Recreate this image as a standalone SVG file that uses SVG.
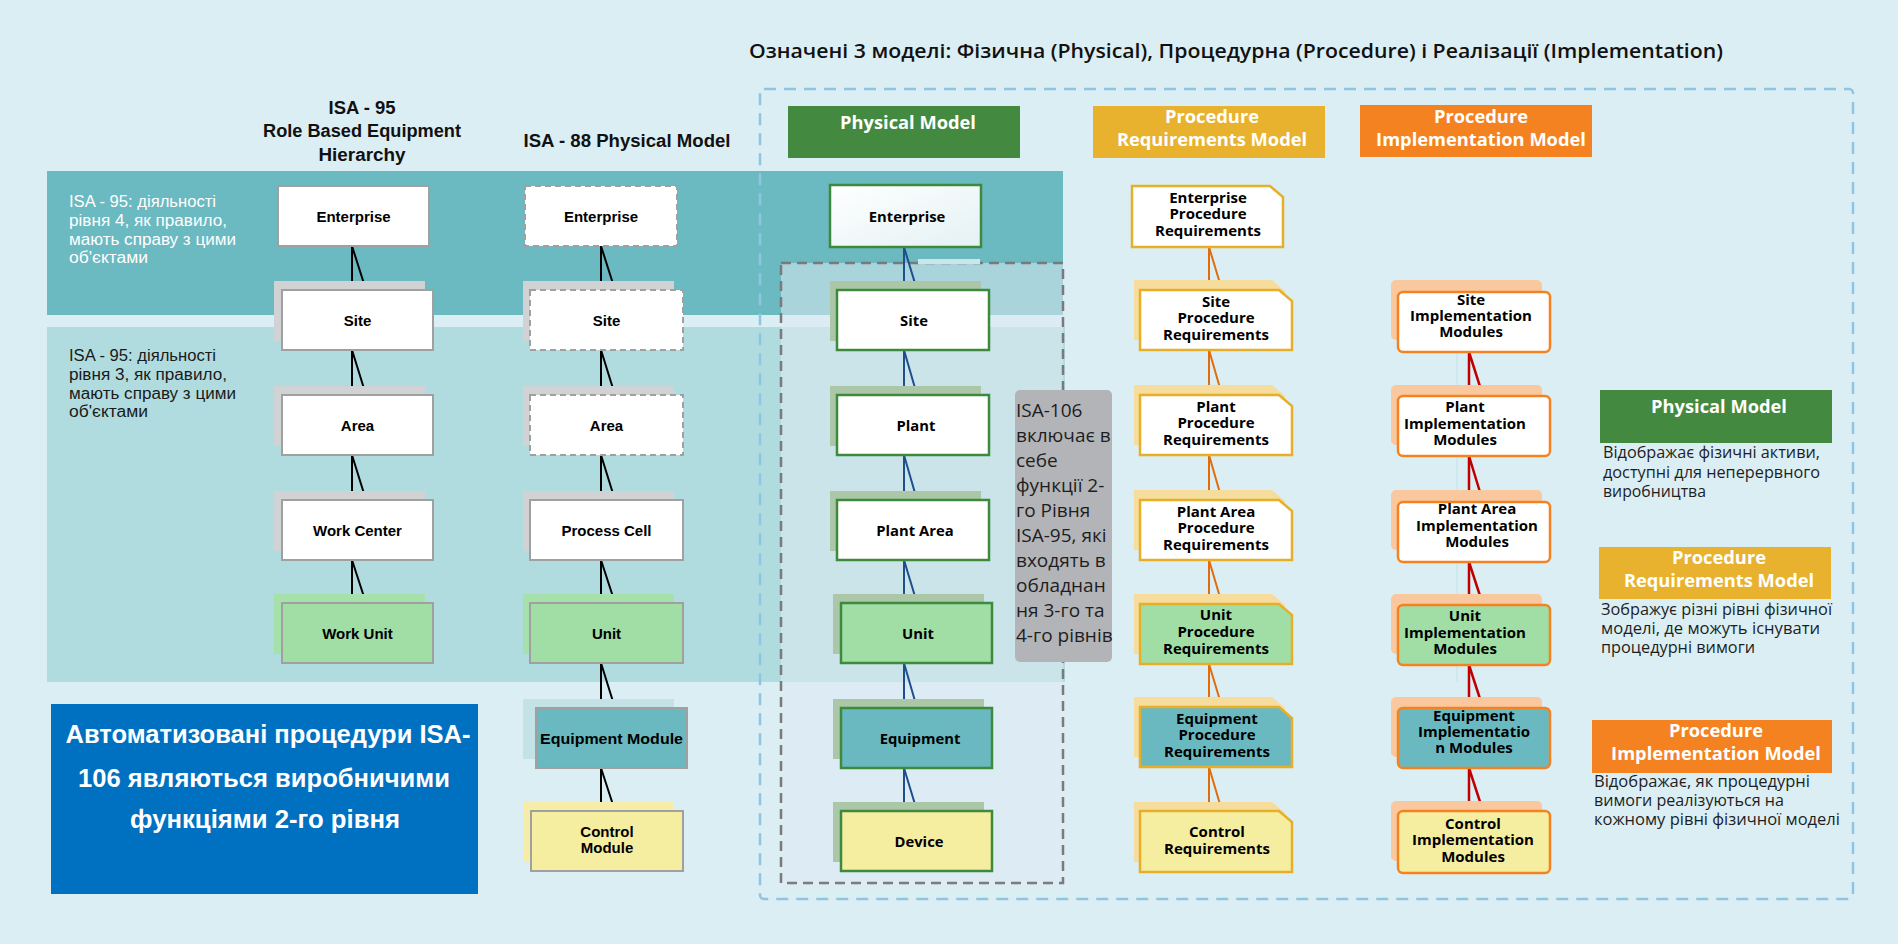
<svg xmlns="http://www.w3.org/2000/svg" width="1898" height="944" viewBox="0 0 1898 944">
<defs>
<linearGradient id="entGrad" x1="0" y1="0" x2="1" y2="1">
<stop offset="0" stop-color="#ffffff"/><stop offset="1" stop-color="#e4f1f3"/>
</linearGradient>
<style>
.t1{font-family:"Liberation Sans",Arial,sans-serif;font-weight:700;font-size:15px;fill:#000;text-anchor:middle}
.t3{font-family:"Open Sans","Liberation Sans",sans-serif;font-weight:700;font-size:14.8px;fill:#000;text-anchor:middle}
.t4{font-family:"Open Sans","Liberation Sans",sans-serif;font-weight:700;font-size:15px;fill:#000;text-anchor:middle}
.hdr{font-family:"Open Sans","Liberation Sans",sans-serif;font-weight:700;font-size:18.3px;fill:#fff;text-anchor:middle}
.desc{font-family:"Open Sans","Liberation Sans",sans-serif;font-size:15.5px;fill:#1e1e1e}
.gtx{font-family:"Open Sans","Liberation Sans",sans-serif;font-size:19px;fill:#1e1e1e}
.band{font-family:"Liberation Sans",Arial,sans-serif;font-size:16px}
.head{font-family:"Liberation Sans",Arial,sans-serif;font-weight:700;font-size:18px;fill:#111;text-anchor:middle}
.b1{fill:#fff;stroke:#a0a0a0;stroke-width:2}
.b1d{fill:#fff;stroke:#a0a0a0;stroke-width:2;stroke-dasharray:6 4}
.s1{fill:#d1d2d4}
.b3{stroke:#3e8a3c;stroke-width:2.5}
.s3{fill:#abc7a8}
.b4{stroke:#e7ae28;stroke-width:2.5}
.s4{fill:#f6dc9d}
.b5{stroke:#f58220;stroke-width:2.5}
.s5{fill:#f9c89e}
.white{fill:#fff}
.green{fill:#a0dea5}
.teal{fill:#6bb9c0}
.yellow{fill:#f5eda0}
.c1{stroke:#000;stroke-width:2;fill:none}
.c3{stroke:#1f4e8c;stroke-width:2;fill:none}
.c4{stroke:#e36c0a;stroke-width:2;fill:none}
.c5{stroke:#c00000;stroke-width:2.5;fill:none}
</style>
</defs>

<rect x="0" y="0" width="1898" height="944" fill="#dbeef4"/>

<g id="bands">
<rect x="47" y="171" width="1016" height="144" fill="#6bb9c1"/>
<rect x="47" y="327" width="1018" height="355" fill="#b0dcdf"/>
<text class="band" fill="#fff"><tspan x="69" y="207" textLength="147" lengthAdjust="spacingAndGlyphs">ISA - 95: діяльності</tspan><tspan x="69" y="226" textLength="158" lengthAdjust="spacingAndGlyphs">рівня 4, як правило,</tspan><tspan x="69" y="245" textLength="167" lengthAdjust="spacingAndGlyphs">мають справу з цими</tspan><tspan x="69" y="263" textLength="79" lengthAdjust="spacingAndGlyphs">об'єктами</tspan></text>
<text class="band" fill="#1a1a1a"><tspan x="69" y="361" textLength="147" lengthAdjust="spacingAndGlyphs">ISA - 95: діяльності</tspan><tspan x="69" y="380" textLength="158" lengthAdjust="spacingAndGlyphs">рівня 3, як правило,</tspan><tspan x="69" y="399" textLength="167" lengthAdjust="spacingAndGlyphs">мають справу з цими</tspan><tspan x="69" y="417" textLength="79" lengthAdjust="spacingAndGlyphs">об'єктами</tspan></text>
</g>

<g id="titles">
<text x="749" y="58" font-family="'Open Sans','Liberation Sans',sans-serif" font-weight="600" font-size="20" fill="#111" textLength="974" lengthAdjust="spacingAndGlyphs">Означені  3 моделі:  Фізична  (Physical),  Процедурна  (Procedure)  і  Реалізації  (Implementation)</text>
<text class="head"><tspan x="362" y="114" textLength="67" lengthAdjust="spacingAndGlyphs">ISA - 95</tspan><tspan x="362" y="137" textLength="198" lengthAdjust="spacingAndGlyphs">Role Based Equipment</tspan><tspan x="362" y="161" textLength="87" lengthAdjust="spacingAndGlyphs">Hierarchy</tspan></text>
<text class="head" x="627" y="147" textLength="207" lengthAdjust="spacingAndGlyphs">ISA - 88 Physical Model</text>
</g>

<g id="frames">
<rect x="760" y="89" width="1093" height="810" rx="4" fill="none" stroke="#8ec5e3" stroke-width="2.5" stroke-dasharray="12 8"/>
<rect x="781" y="263" width="282" height="620" fill="#dfeaf3" fill-opacity="0.54" stroke="#7a7a7a" stroke-width="2.5" stroke-dasharray="10 6"/>
<rect x="918" y="259" width="62" height="5" fill="#c9e6ea"/>
<line x1="1457" y1="353" x2="1457" y2="682" stroke="#c2e1e9" stroke-width="1"/>
</g>

<g id="connectors">
<path class="c1" d="M352 246V281M352 246L366 290M352 350V386M352 350L366 395M352 455V491M352 455L366 500M352 560V594M352 560L366 603"/>
<path class="c1" d="M601 246V281M601 246L615 290M601 350V386M601 350L615 395M601 455V491M601 455L615 500M601 560V594M601 560L615 603M601 663V699M601 663L615 708M601 768V802M601 768L615 811"/>
<path class="c3" d="M904 247V281M904 247L917 290M904 350V386M904 350L917 395M904 455V491M904 455L917 500M904 560V594M904 560L917 603M904 663V699M904 663L917 708M904 768V802M904 768L917 811"/>
<path class="c4" d="M1209 247V280M1209 247L1222 290M1209 350V385M1209 350L1222 395M1209 455V490M1209 455L1222 500M1209 560V594M1209 560L1222 604M1209 664V697M1209 664L1222 707M1209 767V802M1209 767L1222 811"/>
<path class="c5" d="M1469 352V385M1469 352L1483 396M1469 456V490M1469 456L1483 502M1469 562V594M1469 562L1483 605M1469 665V697M1469 665L1483 708M1469 768V801M1469 768L1483 811"/>
</g>

<!-- ISA-95 column -->
<g id="isa95-enterprise"><rect class="b1" x="278" y="186" width="151" height="60"/><text class="t1" x="353.5" y="221.5">Enterprise</text></g>
<g id="isa95-site"><rect class="s1" x="274" y="281" width="151" height="60"/><rect class="b1" x="282" y="290" width="151" height="60"/><text class="t1" x="357.5" y="325.5">Site</text></g>
<g id="isa95-area"><rect class="s1" x="274" y="386" width="151" height="60"/><rect class="b1" x="282" y="395" width="151" height="60"/><text class="t1" x="357.5" y="430.5">Area</text></g>
<g id="isa95-workcenter"><rect class="s1" x="274" y="491" width="151" height="60"/><rect class="b1" x="282" y="500" width="151" height="60"/><text class="t1" x="357.5" y="535.5">Work Center</text></g>
<g id="isa95-workunit"><rect x="274" y="594" width="151" height="60" fill="#a6e0aa"/><rect class="b1" x="282" y="603" width="151" height="60" style="fill:#a0dea5"/><text class="t1" x="357.5" y="638.5">Work Unit</text></g>

<!-- ISA-88 column -->
<g id="isa88-enterprise"><rect class="b1d" x="525" y="186" width="152" height="60"/><text class="t1" x="601" y="221.5">Enterprise</text></g>
<g id="isa88-site"><rect class="s1" x="523" y="281" width="151" height="60"/><rect class="b1d" x="530" y="290" width="153" height="60"/><text class="t1" x="606.5" y="325.5">Site</text></g>
<g id="isa88-area"><rect class="s1" x="523" y="386" width="151" height="60"/><rect class="b1d" x="530" y="395" width="153" height="60"/><text class="t1" x="606.5" y="430.5">Area</text></g>
<g id="isa88-processcell"><rect class="s1" x="523" y="491" width="151" height="60"/><rect class="b1" x="530" y="500" width="153" height="60"/><text class="t1" x="606.5" y="535.5">Process Cell</text></g>
<g id="isa88-unit"><rect x="523" y="594" width="151" height="60" fill="#a6e0aa"/><rect class="b1" x="530" y="603" width="153" height="60" style="fill:#a0dea5"/><text class="t1" x="606.5" y="638.5">Unit</text></g>
<g id="isa88-equipmentmodule"><rect x="523" y="699" width="151" height="60" fill="#c2e2e6"/><rect class="b1" x="536" y="708" width="151" height="60" style="fill:#6bb9c0"/><text class="t1" x="611.5" y="743.5" textLength="143" lengthAdjust="spacingAndGlyphs">Equipment Module</text></g>
<g id="isa88-controlmodule"><rect x="523" y="802" width="151" height="60" fill="#f5eda8"/><rect class="b1" x="531" y="811" width="152" height="60" style="fill:#f5eda0"/><text class="t1"><tspan x="607" y="837">Control</tspan><tspan x="607" y="853">Module</tspan></text></g>

<!-- Physical model column -->
<g id="phys-enterprise"><rect class="b3" x="830" y="185" width="151" height="62" fill="url(#entGrad)"/><text class="t3" x="907" y="222">Enterprise</text></g>
<g id="phys-site"><rect class="s3" x="830" y="281" width="151" height="60"/><rect class="b3 white" x="837" y="290" width="152" height="60"/><text class="t3" x="914" y="326">Site</text></g>
<g id="phys-plant"><rect class="s3" x="830" y="386" width="151" height="60"/><rect class="b3 white" x="837" y="395" width="152" height="60"/><text class="t3" x="916" y="431">Plant</text></g>
<g id="phys-plantarea"><rect class="s3" x="830" y="491" width="151" height="60"/><rect class="b3 white" x="837" y="500" width="152" height="60"/><text class="t3" x="915" y="536">Plant Area</text></g>
<g id="phys-unit"><rect class="s3" x="833" y="594" width="151" height="60"/><rect class="b3 green" x="841" y="603" width="151" height="60"/><text class="t3" x="918" y="639">Unit</text></g>
<g id="phys-equipment"><rect class="s3" x="833" y="699" width="151" height="60"/><rect class="b3 teal" x="841" y="708" width="151" height="60"/><text class="t3" x="920" y="744">Equipment</text></g>
<g id="phys-device"><rect class="s3" x="833" y="802" width="151" height="60"/><rect class="b3 yellow" x="841" y="811" width="151" height="60"/><text class="t3" x="919" y="847">Device</text></g>

<g id="isa106-note"><rect x="1015" y="390" width="97" height="272" rx="5" fill="#b3b4b8"/>
<text class="gtx"><tspan x="1016" y="417">ISA-106</tspan><tspan x="1016" y="442">включає в</tspan><tspan x="1016" y="467">себе</tspan><tspan x="1016" y="492">функції 2-</tspan><tspan x="1016" y="517">го Рівня</tspan><tspan x="1016" y="542">ISA-95, які</tspan><tspan x="1016" y="567">входять в</tspan><tspan x="1016" y="592">обладнан</tspan><tspan x="1016" y="617">ня 3-го та</tspan><tspan x="1016" y="642">4-го рівнів</tspan></text></g>

<!-- Procedure requirements column -->
<g id="pr-enterprise"><path class="b4 white" d="M1132 186H1270L1283 197V247H1132Z"/><text class="t4"><tspan x="1208" y="203">Enterprise</tspan><tspan x="1208" y="219">Procedure</tspan><tspan x="1208" y="236">Requirements</tspan></text></g>
<g id="pr-site"><path class="s4" d="M1134 280H1272L1285 291V340H1134Z"/><path class="b4 white" d="M1140 290H1279L1292 301V350H1140Z"/><text class="t4"><tspan x="1216" y="307">Site</tspan><tspan x="1216" y="323">Procedure</tspan><tspan x="1216" y="340">Requirements</tspan></text></g>
<g id="pr-plant"><path class="s4" d="M1134 385H1272L1285 396V445H1134Z"/><path class="b4 white" d="M1140 395H1279L1292 406V455H1140Z"/><text class="t4"><tspan x="1216" y="412">Plant</tspan><tspan x="1216" y="428">Procedure</tspan><tspan x="1216" y="445">Requirements</tspan></text></g>
<g id="pr-plantarea"><path class="s4" d="M1134 490H1272L1285 501V550H1134Z"/><path class="b4 white" d="M1140 500H1279L1292 511V560H1140Z"/><text class="t4"><tspan x="1216" y="517">Plant Area</tspan><tspan x="1216" y="533">Procedure</tspan><tspan x="1216" y="550">Requirements</tspan></text></g>
<g id="pr-unit"><path class="s4" d="M1134 594H1272L1285 605V654H1134Z"/><path class="b4 green" d="M1140 604H1279L1292 615V664H1140Z"/><text class="t4"><tspan x="1216" y="620">Unit</tspan><tspan x="1216" y="637">Procedure</tspan><tspan x="1216" y="654">Requirements</tspan></text></g>
<g id="pr-equipment"><path class="s4" d="M1134 697H1272L1285 708V757H1134Z"/><path class="b4 teal" d="M1140 707H1279L1292 718V767H1140Z"/><text class="t4"><tspan x="1217" y="724">Equipment</tspan><tspan x="1217" y="740">Procedure</tspan><tspan x="1217" y="757">Requirements</tspan></text></g>
<g id="pr-control"><path class="s4" d="M1134 802H1272L1285 813V862H1134Z"/><path class="b4 yellow" d="M1140 811H1279L1292 822V872H1140Z"/><text class="t4"><tspan x="1217" y="837">Control</tspan><tspan x="1217" y="854">Requirements</tspan></text></g>

<!-- Procedure implementation column -->
<g id="pi-site"><rect class="s5" x="1391" y="280" width="151" height="60" rx="5"/><rect class="b5 white" x="1398" y="292" width="152" height="60" rx="5"/><text class="t4"><tspan x="1471" y="305">Site</tspan><tspan x="1471" y="321">Implementation</tspan><tspan x="1471" y="337">Modules</tspan></text></g>
<g id="pi-plant"><rect class="s5" x="1391" y="385" width="151" height="60" rx="5"/><rect class="b5 white" x="1398" y="396" width="152" height="60" rx="5"/><text class="t4"><tspan x="1465" y="412">Plant</tspan><tspan x="1465" y="429">Implementation</tspan><tspan x="1465" y="445">Modules</tspan></text></g>
<g id="pi-plantarea"><rect class="s5" x="1391" y="490" width="151" height="60" rx="5"/><rect class="b5 white" x="1398" y="502" width="152" height="60" rx="5"/><text class="t4"><tspan x="1477" y="514">Plant Area</tspan><tspan x="1477" y="531">Implementation</tspan><tspan x="1477" y="547">Modules</tspan></text></g>
<g id="pi-unit"><rect class="s5" x="1391" y="594" width="151" height="60" rx="5"/><rect class="b5 green" x="1398" y="605" width="152" height="60" rx="5"/><text class="t4"><tspan x="1465" y="621">Unit</tspan><tspan x="1465" y="638">Implementation</tspan><tspan x="1465" y="654">Modules</tspan></text></g>
<g id="pi-equipment"><rect class="s5" x="1391" y="697" width="151" height="60" rx="5"/><rect class="b5 teal" x="1398" y="708" width="152" height="60" rx="5"/><text class="t4"><tspan x="1474" y="721">Equipment</tspan><tspan x="1474" y="737">Implementatio</tspan><tspan x="1474" y="753">n Modules</tspan></text></g>
<g id="pi-control"><rect class="s5" x="1391" y="801" width="151" height="60" rx="5"/><rect class="b5 yellow" x="1398" y="811" width="152" height="62" rx="5"/><text class="t4"><tspan x="1473" y="829">Control</tspan><tspan x="1473" y="845">Implementation</tspan><tspan x="1473" y="862">Modules</tspan></text></g>

<!-- Model headers -->
<g id="hdr-physical"><rect x="788" y="106" width="232" height="52" fill="#43893f"/><text class="hdr" x="908" y="129">Physical Model</text></g>
<g id="hdr-procreq"><rect x="1093" y="106" width="232" height="52" fill="#e8b22e"/><text class="hdr"><tspan x="1212" y="123">Procedure</tspan><tspan x="1212" y="146">Requirements Model</tspan></text></g>
<g id="hdr-procimpl"><rect x="1360" y="105" width="232" height="52" fill="#f58220"/><text class="hdr"><tspan x="1481" y="123">Procedure</tspan><tspan x="1481" y="146">Implementation Model</tspan></text></g>

<!-- Legend -->
<g id="legend-physical"><rect x="1600" y="390" width="232" height="53" fill="#43893f"/><text class="hdr" x="1719" y="413">Physical Model</text>
<text class="desc"><tspan x="1603" y="458" textLength="217" lengthAdjust="spacingAndGlyphs">Відображає фізичні активи,</tspan><tspan x="1603" y="478" textLength="217" lengthAdjust="spacingAndGlyphs">доступні для неперервного</tspan><tspan x="1603" y="497" textLength="103" lengthAdjust="spacingAndGlyphs">виробництва</tspan></text></g>
<g id="legend-procreq"><rect x="1599" y="547" width="232" height="52" fill="#e8b22e"/><text class="hdr"><tspan x="1719" y="564">Procedure</tspan><tspan x="1719" y="587">Requirements Model</tspan></text>
<text class="desc"><tspan x="1601" y="615" textLength="231" lengthAdjust="spacingAndGlyphs">Зображує різні рівні фізичної</tspan><tspan x="1601" y="634" textLength="219" lengthAdjust="spacingAndGlyphs">моделі, де можуть існувати</tspan><tspan x="1601" y="653" textLength="154" lengthAdjust="spacingAndGlyphs">процедурні вимоги</tspan></text></g>
<g id="legend-procimpl"><rect x="1592" y="720" width="240" height="53" fill="#f58220"/><text class="hdr"><tspan x="1716" y="737">Procedure</tspan><tspan x="1716" y="760">Implementation Model</tspan></text>
<text class="desc"><tspan x="1594" y="787" textLength="216" lengthAdjust="spacingAndGlyphs">Відображає, як процедурні</tspan><tspan x="1594" y="806" textLength="190" lengthAdjust="spacingAndGlyphs">вимоги реалізуються на</tspan><tspan x="1594" y="825" textLength="246" lengthAdjust="spacingAndGlyphs">кожному рівні фізичної моделі</tspan></text></g>

<g id="isa106-callout"><rect x="51" y="704" width="427" height="190" fill="#0070c0"/>
<text font-family="'Liberation Sans',Arial,sans-serif" font-weight="700" font-size="25" fill="#fff" text-anchor="middle"><tspan x="268" y="743" textLength="405" lengthAdjust="spacingAndGlyphs">Автоматизовані процедури ISA-</tspan><tspan x="264" y="787" textLength="372" lengthAdjust="spacingAndGlyphs">106 являються виробничими</tspan><tspan x="265" y="828" textLength="270" lengthAdjust="spacingAndGlyphs">функціями 2-го рівня</tspan></text></g>
</svg>
